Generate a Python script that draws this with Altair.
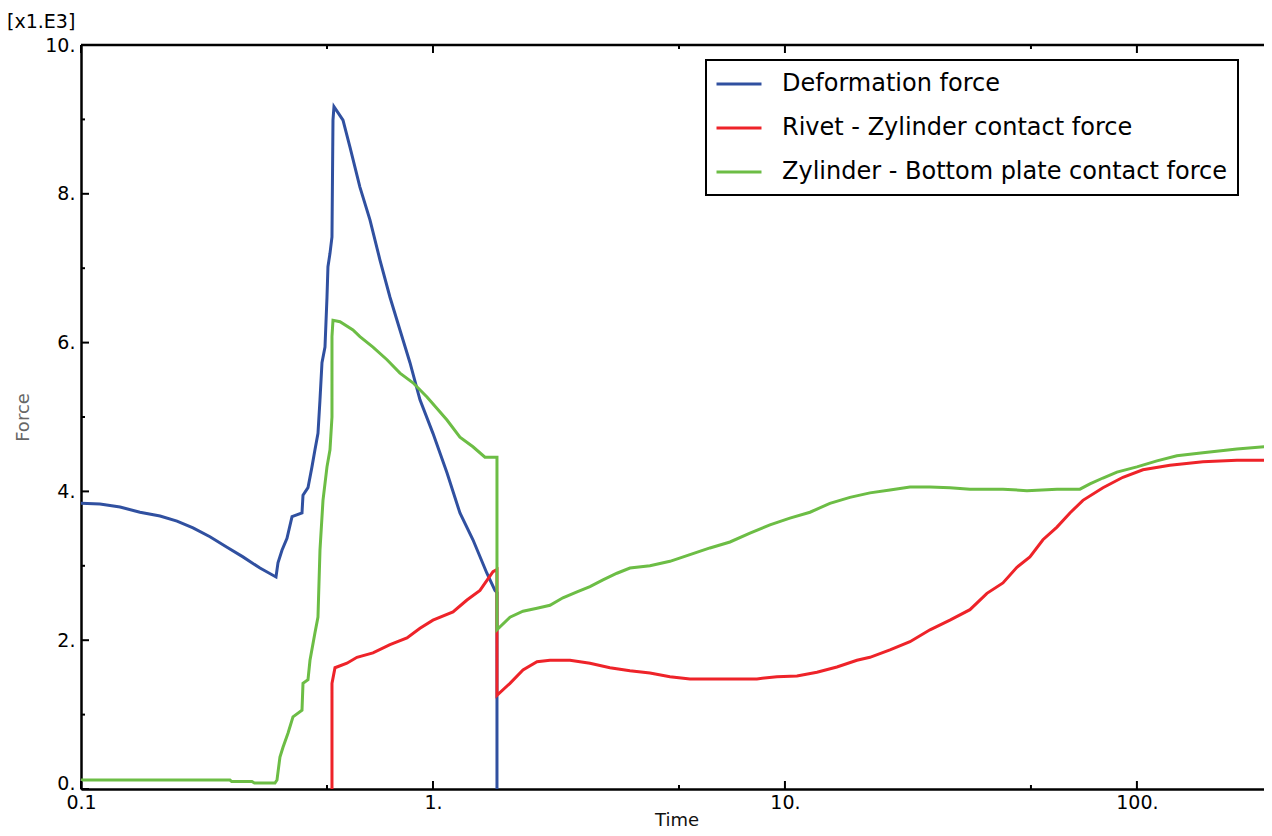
import altair as alt
import pandas as pd

series_names = ["Deformation force", "Rivet - Zylinder contact force",
                "Zylinder - Bottom plate contact force"]
series_colors = ["#3050a0", "#ee2329", "#6cbd45"]

# Time (log) and Force [x1.E3]
blue_t = [0.1, 0.1132, 0.1291, 0.1471, 0.1677, 0.1874, 0.2081, 0.2325, 0.2599, 0.2885,
          0.3225, 0.3581, 0.3628, 0.3724, 0.3848, 0.3977, 0.4245, 0.4273, 0.4415, 0.4531,
          0.4621, 0.4713, 0.4775, 0.4838, 0.4934, 0.4999, 0.5031, 0.5098, 0.5165, 0.5199,
          0.5233, 0.5372, 0.5551, 0.5808, 0.6201, 0.6622, 0.7070, 0.7549, 0.8058, 0.8604,
          0.9186, 1.0, 1.096, 1.193, 1.299, 1.423, 1.500, 1.52, 1.52]
blue_v = [3.84, 3.83, 3.79, 3.72, 3.67, 3.60, 3.51, 3.39, 3.25, 3.12,
          2.97, 2.85, 3.04, 3.21, 3.37, 3.66, 3.71, 3.95, 4.05, 4.33,
          4.56, 4.78, 5.23, 5.73, 5.94, 6.61, 7.02, 7.20, 7.42, 8.99,
          9.17, 9.09, 8.99, 8.63, 8.09, 7.65, 7.11, 6.61, 6.17, 5.73,
          5.23, 4.78, 4.25, 3.71, 3.35, 2.90, 2.67, 2.64, 0.0]

red_t = [0.5165, 0.5165, 0.5268, 0.5696, 0.6083, 0.6754, 0.7549, 0.8436, 0.9186, 1.0,
         1.140, 1.249, 1.360, 1.481, 1.52, 1.52, 1.655, 1.802, 1.975, 2.150,
         2.450, 2.793, 3.183, 3.628, 4.135, 4.713, 5.372, 6.123, 6.980, 8.325,
         9.490, 10.82, 12.33, 14.05, 16.02, 17.44, 19.88, 22.66, 25.83, 29.43,
         33.55, 37.49, 41.63, 45.61, 49.66, 54.08, 59.27, 64.53, 70.25, 80.08,
         91.26, 104.0, 124.1, 154.0, 192.4, 242.0]
red_v = [0.0, 1.42, 1.63, 1.69, 1.77, 1.83, 1.94, 2.03, 2.16, 2.27,
         2.38, 2.54, 2.67, 2.92, 2.95, 1.26, 1.42, 1.60, 1.71, 1.73,
         1.73, 1.69, 1.63, 1.59, 1.56, 1.51, 1.48, 1.48, 1.48, 1.48,
         1.51, 1.52, 1.57, 1.64, 1.73, 1.77, 1.87, 1.98, 2.14, 2.27,
         2.41, 2.63, 2.77, 2.98, 3.12, 3.35, 3.52, 3.71, 3.88, 4.05,
         4.19, 4.29, 4.35, 4.40, 4.42, 4.42]

green_t = [0.1, 0.265, 0.268, 0.306, 0.311, 0.3557, 0.3604, 0.3675, 0.3749, 0.3873,
           0.4002, 0.4245, 0.4273, 0.4415, 0.4473, 0.4621, 0.4713, 0.4775, 0.4870, 0.4999,
           0.5098, 0.5165, 0.5165, 0.5199, 0.5443, 0.5925, 0.6201, 0.6754, 0.7403, 0.8058,
           0.8775, 0.9616, 1.096, 1.193, 1.299, 1.405, 1.500, 1.52, 1.52, 1.655,
           1.802, 1.975, 2.150, 2.340, 2.566, 2.793, 3.041, 3.332, 3.628, 4.135,
           4.713, 5.372, 6.123, 6.980, 7.955, 9.066, 10.33, 11.78, 13.42, 15.30,
           17.44, 19.88, 22.66, 25.83, 29.43, 33.55, 41.63, 48.70, 59.27, 68.89,
           73.54, 80.08, 87.75, 100.0, 114.0, 129.9, 154.0, 192.4, 242.0]
green_v = [0.12, 0.12, 0.10, 0.10, 0.08, 0.08, 0.12, 0.43, 0.56, 0.75,
           0.97, 1.06, 1.42, 1.47, 1.73, 2.10, 2.31, 3.21, 3.88, 4.33,
           4.56, 5.00, 6.08, 6.30, 6.28, 6.17, 6.08, 5.94, 5.77, 5.59,
           5.46, 5.27, 4.96, 4.73, 4.60, 4.46, 4.46, 4.46, 2.14, 2.31,
           2.39, 2.43, 2.47, 2.57, 2.65, 2.72, 2.81, 2.90, 2.97, 3.00,
           3.06, 3.15, 3.24, 3.32, 3.44, 3.55, 3.64, 3.72, 3.84, 3.92,
           3.98, 4.02, 4.06, 4.06, 4.05, 4.03, 4.03, 4.01, 4.03, 4.03,
           4.10, 4.18, 4.26, 4.33, 4.41, 4.48, 4.52, 4.57, 4.61]

x_major = [0.1, 1, 10, 100]
x_minor = [0.5, 5, 50]
y_major = [0, 2, 4, 6, 8, 10]
y_minor = [1, 3, 5, 7, 9]

rows = []
for name, ts, vs in zip(series_names, [blue_t, red_t, green_t], [blue_v, red_v, green_v]):
    for i, (t, v) in enumerate(zip(ts, vs)):
        rows.append({"series": name, "t": t, "v": v, "idx": i})
df = pd.DataFrame(rows)

W, H = 1191, 744
FONT = "DejaVu Sans"

x_scale = alt.Scale(type="log", domain=[0.1, 242], nice=False)
y_scale = alt.Scale(domain=[0, 10], nice=False, zero=False)

x_axis = alt.Axis(values=x_major, labelExpr="datum.value < 0.5 ? '0.1' : datum.value + '.'",
                  title="Time", grid=False, ticks=False, tickSize=0, domain=True,
                  domainColor="black", domainWidth=2.5, labelFont=FONT, labelFontSize=19,
                  labelColor="black", labelPadding=4, labelFlush=False, labelOverlap=False,
                  titleFont=FONT, titleFontSize=18, titleFontWeight="normal",
                  titleColor="#111111", titleBaseline="alphabetic", titleY=36)
y_axis = alt.Axis(values=y_major, labelExpr="datum.value + '.'", title="Force", grid=False,
                  ticks=False, tickSize=0, domain=True, domainColor="black", domainWidth=2.5,
                  labelFont=FONT, labelFontSize=19, labelColor="black", labelPadding=6,
                  labelBaseline={"condition": {"test": "datum.value == 0", "value": "alphabetic"},
                                 "value": "middle"},
                  labelFlush=False, labelOverlap=False, titleFont=FONT, titleFontSize=18,
                  titleFontWeight="normal", titleColor="#666666", titlePadding=12)

X = alt.X("t:Q", scale=x_scale, axis=x_axis)
Y = alt.Y("v:Q", scale=y_scale, axis=y_axis)

lines = alt.Chart(df).mark_line(strokeWidth=3, clip=True).encode(
    x=X, y=Y,
    color=alt.Color("series:N", sort=series_names,
                    scale=alt.Scale(domain=series_names, range=series_colors),
                    legend=alt.Legend(title=None, orient="none", legendX=625, legendY=15,
                                      direction="vertical", fillColor="white",
                                      strokeColor="black", padding=11, symbolOffset=9,
                                      symbolType="M-2,0H2",
                                      symbolSize=506, symbolStrokeWidth=3,
                                      labelFontSize=24, labelFont=FONT, labelColor="black",
                                      labelOffset=30, labelLimit=700, rowPadding=19)),
    order=alt.Order("idx:Q"),
)

xmaj = pd.DataFrame({"t": x_major})
xmin = pd.DataFrame({"t": x_minor})
ymaj = pd.DataFrame({"v": y_major})
ymin = pd.DataFrame({"v": y_minor})

tick_style = dict(color="black", strokeWidth=2)
layers = [
    alt.Chart(xmaj).mark_rule(**tick_style).encode(x=X, y=alt.value(H), y2=alt.value(H - 8)),
    alt.Chart(xmin).mark_rule(**tick_style).encode(x=X, y=alt.value(H), y2=alt.value(H - 4)),
    alt.Chart(xmaj).mark_rule(**tick_style).encode(x=X, y=alt.value(0), y2=alt.value(8)),
    alt.Chart(xmin).mark_rule(**tick_style).encode(x=X, y=alt.value(0), y2=alt.value(4)),
    alt.Chart(ymaj).mark_rule(**tick_style).encode(y=Y, x=alt.value(0), x2=alt.value(8)),
    alt.Chart(ymin).mark_rule(**tick_style).encode(y=Y, x=alt.value(0), x2=alt.value(4)),
    alt.Chart(ymaj).mark_rule(**tick_style).encode(y=Y, x=alt.value(W), x2=alt.value(W - 8)),
    alt.Chart(ymin).mark_rule(**tick_style).encode(y=Y, x=alt.value(W), x2=alt.value(W - 4)),
]

frame_top = alt.Chart(pd.DataFrame({"a": [0]})).mark_rule(color="black", strokeWidth=2.5).encode(
    x=alt.value(0), x2=alt.value(W), y=alt.value(0))

unit_label = alt.Chart(pd.DataFrame({"a": [0]})).mark_text(
    align="left", baseline="middle", font=FONT, fontSize=19, color="black").encode(
    x=alt.value(-74), y=alt.value(-23), text=alt.value("[x1.E3]"))

chart = alt.layer(lines, *layers, frame_top, unit_label).properties(
    width=W, height=H,
    padding={"left": 73, "top": 37, "right": -8, "bottom": 39},
    autosize=alt.AutoSizeParams(type="none"),
    background="white",
).configure_view(stroke=None).configure_legend(strokeWidth=2)

chart.save("out.html", embed_options={"renderer": "svg", "actions": False})
